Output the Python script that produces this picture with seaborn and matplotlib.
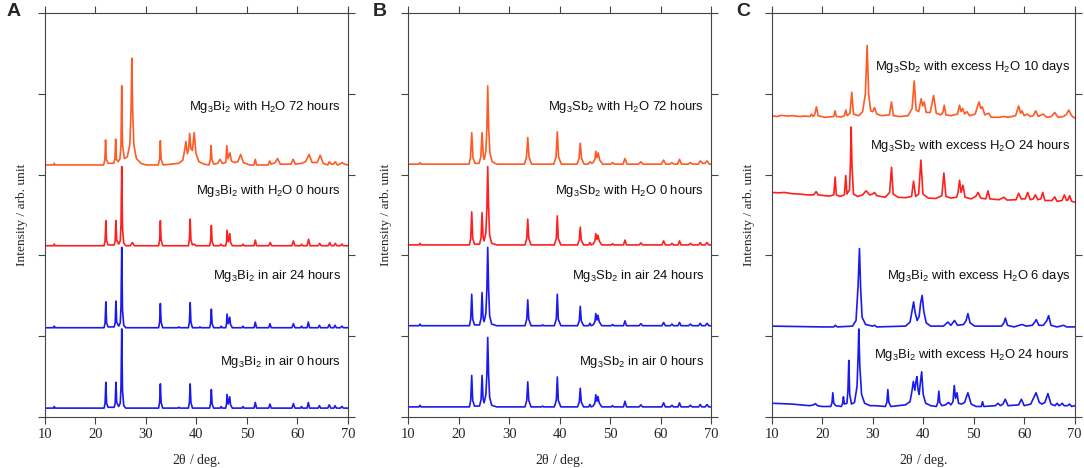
import pandas as pd
import matplotlib.pyplot as plt
import seaborn as sns

# -------------------------
# data : traced XRD patterns (2theta, intensity above baseline)
# -------------------------
bi_air_0h = [(10, 0), (11.7, 0), (11.85, 0.02), (12.0, 0),
             (21.7, 0), (21.9, 0.06), (22.05, 0.32), (22.2, 0.06), (22.5, 0.01),
             (23.7, 0.01), (23.9, 0.06), (24.05, 0.32), (24.2, 0.07), (24.6, 0.02),
             (24.9, 0.06), (25.05, 0.25), (25.2, 0.98), (25.35, 0.22), (25.6, 0.03), (26.0, 0),
             (32.5, 0), (32.7, 0.07), (32.85, 0.30), (33.0, 0.07), (33.3, 0),
             (36.3, 0), (36.5, 0.01), (36.7, 0),
             (38.4, 0), (38.6, 0.07), (38.75, 0.30), (38.9, 0.07), (39.2, 0),
             (42.6, 0), (42.8, 0.06), (42.95, 0.23), (43.1, 0.05), (43.4, 0),
             (44.7, 0), (44.9, 0.02), (45.1, 0),
             (45.8, 0), (45.95, 0.05), (46.05, 0.17), (46.3, 0.05), (46.6, 0.14), (46.75, 0.04), (47.1, 0),
             (49.0, 0), (49.2, 0.02), (49.4, 0),
             (51.4, 0), (51.65, 0.07), (51.9, 0),
             (54.3, 0), (54.55, 0.05), (54.8, 0),
             (58.9, 0), (59.2, 0.055), (59.5, 0),
             (60.6, 0), (60.8, 0.02), (61.0, 0),
             (61.9, 0), (62.15, 0.07), (62.4, 0),
             (64.1, 0), (64.35, 0.03), (64.6, 0),
             (66.0, 0), (66.3, 0.04), (66.6, 0),
             (67.2, 0), (67.45, 0.03), (67.7, 0),
             (68.5, 0), (68.8, 0.02), (69.1, 0), (70, 0)]

bi_air_24h = [(10, 0), (11.7, 0), (11.85, 0.02), (12.0, 0),
              (21.7, 0), (21.9, 0.06), (22.05, 0.32), (22.2, 0.06), (22.5, 0.01),
              (23.7, 0.01), (23.9, 0.06), (24.05, 0.33), (24.2, 0.07), (24.6, 0.02),
              (24.9, 0.06), (25.05, 0.25), (25.2, 0.995), (25.35, 0.22), (25.6, 0.03), (26.0, 0),
              (32.5, 0), (32.7, 0.07), (32.85, 0.30), (33.0, 0.07), (33.3, 0),
              (36.3, 0), (36.5, 0.01), (36.7, 0),
              (38.4, 0), (38.6, 0.07), (38.75, 0.31), (38.9, 0.07), (39.2, 0),
              (40.5, 0), (40.7, 0.01), (40.9, 0),
              (42.6, 0), (42.8, 0.06), (42.95, 0.23), (43.1, 0.05), (43.4, 0),
              (44.7, 0), (44.9, 0.02), (45.1, 0),
              (45.8, 0), (45.95, 0.05), (46.05, 0.17), (46.3, 0.05), (46.6, 0.13), (46.75, 0.04), (47.1, 0),
              (49.0, 0), (49.2, 0.02), (49.4, 0),
              (51.4, 0), (51.65, 0.07), (51.9, 0),
              (54.3, 0), (54.55, 0.05), (54.8, 0),
              (58.9, 0), (59.2, 0.05), (59.5, 0),
              (60.6, 0), (60.8, 0.02), (61.0, 0),
              (61.9, 0), (62.15, 0.07), (62.4, 0),
              (64.1, 0), (64.35, 0.03), (64.6, 0),
              (66.0, 0), (66.3, 0.04), (66.6, 0),
              (67.2, 0), (67.45, 0.03), (67.7, 0),
              (68.5, 0), (68.8, 0.02), (69.1, 0), (70, 0)]

bi_h2o_0h = [(10, 0), (11.7, 0), (11.85, 0.02), (12.0, 0),
             (21.7, 0), (21.9, 0.06), (22.05, 0.31), (22.2, 0.06), (22.5, 0.01),
             (23.7, 0.01), (23.9, 0.06), (24.05, 0.31), (24.2, 0.07), (24.6, 0.02),
             (24.9, 0.06), (25.05, 0.25), (25.2, 0.98), (25.35, 0.22), (25.6, 0.03), (26.0, 0),
             (26.9, 0), (27.3, 0.04), (27.7, 0),
             (32.5, 0), (32.7, 0.07), (32.85, 0.31), (33.0, 0.07), (33.3, 0),
             (38.4, 0), (38.6, 0.08), (38.75, 0.33), (38.9, 0.07), (39.2, 0.01), (39.6, 0.02), (39.9, 0),
             (42.6, 0), (42.8, 0.06), (42.95, 0.25), (43.1, 0.05), (43.4, 0),
             (44.6, 0), (44.85, 0.02), (45.1, 0),
             (45.8, 0), (45.95, 0.05), (46.05, 0.19), (46.3, 0.05), (46.6, 0.15), (46.75, 0.04), (47.1, 0),
             (49.0, 0), (49.2, 0.02), (49.4, 0),
             (51.4, 0), (51.65, 0.07), (51.9, 0),
             (54.3, 0), (54.6, 0.04), (54.9, 0),
             (58.9, 0), (59.2, 0.06), (59.5, 0),
             (60.6, 0), (60.8, 0.02), (61.0, 0),
             (61.9, 0), (62.2, 0.08), (62.5, 0),
             (64.1, 0), (64.4, 0.03), (64.7, 0),
             (66.1, 0), (66.4, 0.04), (66.7, 0),
             (67.2, 0), (67.5, 0.03), (67.8, 0),
             (68.5, 0), (68.8, 0.02), (69.1, 0), (70, 0)]

bi_h2o_72h = [(10, 0), (11.7, 0), (11.85, 0.02), (12.0, 0),
              (21.6, 0), (21.85, 0.06), (22.0, 0.31), (22.15, 0.07), (22.5, 0.02),
              (23.6, 0.02), (23.85, 0.07), (24.0, 0.32), (24.15, 0.07), (24.5, 0.04),
              (24.85, 0.08), (25.05, 0.25), (25.2, 0.98), (25.35, 0.25), (25.7, 0.08),
              (26.3, 0.1), (26.8, 0.25), (27.05, 0.7), (27.2, 1.32), (27.35, 0.7), (27.6, 0.25),
              (28.1, 0.08), (29.0, 0.02), (30.0, 0),
              (32.4, 0), (32.7, 0.07), (32.85, 0.30), (33.0, 0.07), (33.4, 0),
              (36.5, 0.02), (37.3, 0.06), (37.7, 0.2), (37.9, 0.29), (38.2, 0.14), (38.45, 0.2),
              (38.65, 0.39), (38.9, 0.2), (39.2, 0.18), (39.55, 0.40), (39.9, 0.14), (40.5, 0.04), (41.5, 0.01),
              (42.5, 0), (42.75, 0.07), (42.9, 0.24), (43.05, 0.07), (43.4, 0.01),
              (44.2, 0.02), (44.65, 0.07), (45.1, 0.02),
              (45.8, 0.03), (46.0, 0.24), (46.25, 0.08), (46.65, 0.15), (46.9, 0.05), (47.5, 0.03),
              (48.2, 0.04), (48.75, 0.13), (49.3, 0.03), (50.5, 0),
              (51.4, 0), (51.65, 0.07), (51.9, 0),
              (54.2, 0), (54.5, 0.05), (54.8, 0.01), (55.6, 0.03), (56.05, 0.08), (56.6, 0.01),
              (58.7, 0.01), (59.15, 0.07), (59.6, 0.01),
              (60.8, 0.02), (61.6, 0.04), (62.3, 0.13), (62.9, 0.03),
              (63.9, 0.03), (64.5, 0.12), (65.1, 0.02),
              (66.0, 0), (66.3, 0.04), (66.7, 0.01),
              (67.1, 0.01), (67.5, 0.04), (67.9, 0),
              (68.4, 0.01), (68.8, 0.03), (69.3, 0.01), (70, 0)]

sb_air_0h = [(10, 0), (12.1, 0), (12.3, 0.02), (12.5, 0),
             (22.1, 0), (22.35, 0.08), (22.55, 0.39), (22.75, 0.08), (23.1, 0.01),
             (24.1, 0.01), (24.4, 0.09), (24.6, 0.39), (24.8, 0.1), (25.0, 0.05),
             (25.35, 0.15), (25.55, 0.4), (25.72, 0.86), (25.9, 0.4), (26.1, 0.12), (26.5, 0.02), (27.5, 0),
             (33.1, 0), (33.45, 0.08), (33.65, 0.31), (33.85, 0.08), (34.3, 0),
             (36.4, 0), (36.6, 0.01), (36.8, 0),
             (38.9, 0), (39.3, 0.08), (39.5, 0.37), (39.7, 0.08), (40.2, 0),
             (43.5, 0), (43.85, 0.06), (44.05, 0.23), (44.25, 0.06), (44.7, 0),
             (45.7, 0), (45.95, 0.03), (46.2, 0), (46.6, 0.01), (46.95, 0.05), (47.12, 0.15),
             (47.35, 0.07), (47.55, 0.13), (47.8, 0.05), (48.3, 0),
             (50.2, 0), (50.45, 0.015), (50.7, 0),
             (52.6, 0), (52.9, 0.07), (53.2, 0),
             (55.7, 0), (56.05, 0.025), (56.4, 0),
             (60.2, 0), (60.55, 0.05), (60.9, 0),
             (61.9, 0), (62.2, 0.02), (62.5, 0),
             (63.4, 0), (63.7, 0.05), (64.0, 0),
             (65.5, 0), (65.85, 0.02), (66.2, 0),
             (67.5, 0), (67.8, 0.03), (68.1, 0),
             (68.8, 0), (69.15, 0.03), (69.5, 0), (70, 0)]

sb_air_24h = [(10, 0), (12.1, 0), (12.3, 0.02), (12.5, 0),
              (22.1, 0), (22.35, 0.08), (22.55, 0.39), (22.75, 0.08), (23.1, 0.01),
              (24.1, 0.01), (24.4, 0.09), (24.6, 0.41), (24.8, 0.1), (25.0, 0.05),
              (25.35, 0.15), (25.55, 0.45), (25.72, 0.97), (25.9, 0.45), (26.1, 0.12), (26.5, 0.02), (27.5, 0),
              (33.1, 0), (33.45, 0.08), (33.65, 0.32), (33.85, 0.08), (34.3, 0),
              (36.4, 0), (36.6, 0.01), (36.8, 0),
              (38.9, 0), (39.3, 0.08), (39.5, 0.39), (39.7, 0.08), (40.2, 0),
              (43.5, 0), (43.85, 0.06), (44.05, 0.24), (44.25, 0.06), (44.7, 0),
              (45.7, 0), (45.95, 0.03), (46.2, 0), (46.6, 0.01), (46.95, 0.05), (47.12, 0.15),
              (47.35, 0.07), (47.55, 0.13), (47.8, 0.05), (48.3, 0),
              (50.2, 0), (50.45, 0.015), (50.7, 0),
              (52.6, 0), (52.9, 0.06), (53.2, 0),
              (55.7, 0), (56.05, 0.025), (56.4, 0),
              (60.2, 0), (60.55, 0.04), (60.9, 0),
              (61.9, 0), (62.2, 0.02), (62.5, 0),
              (63.4, 0), (63.7, 0.04), (64.0, 0),
              (65.5, 0), (65.85, 0.02), (66.2, 0),
              (67.5, 0), (67.8, 0.03), (68.1, 0),
              (68.8, 0), (69.15, 0.03), (69.5, 0), (70, 0)]

sb_h2o_0h = [(10, 0), (12.1, 0), (12.3, 0.02), (12.5, 0),
             (22.1, 0), (22.35, 0.08), (22.55, 0.41), (22.75, 0.08), (23.1, 0.01),
             (24.1, 0.01), (24.4, 0.09), (24.6, 0.40), (24.8, 0.1), (25.0, 0.05),
             (25.35, 0.15), (25.55, 0.45), (25.72, 0.97), (25.9, 0.45), (26.1, 0.12), (26.5, 0.02), (27.5, 0),
             (33.1, 0), (33.45, 0.08), (33.65, 0.32), (33.85, 0.08), (34.3, 0),
             (38.9, 0), (39.3, 0.08), (39.5, 0.36), (39.7, 0.08), (40.2, 0),
             (43.5, 0), (43.85, 0.06), (44.05, 0.22), (44.25, 0.06), (44.7, 0),
             (45.7, 0), (45.95, 0.03), (46.2, 0), (46.6, 0.01), (46.95, 0.05), (47.12, 0.14),
             (47.35, 0.07), (47.55, 0.12), (47.8, 0.05), (48.3, 0),
             (50.2, 0), (50.45, 0.015), (50.7, 0),
             (52.6, 0), (52.9, 0.06), (53.2, 0),
             (55.7, 0), (56.05, 0.025), (56.4, 0),
             (60.2, 0), (60.55, 0.05), (60.9, 0),
             (61.9, 0), (62.2, 0.02), (62.5, 0),
             (63.4, 0), (63.7, 0.05), (64.0, 0),
             (65.5, 0), (65.85, 0.02), (66.2, 0),
             (67.5, 0), (67.8, 0.03), (68.1, 0),
             (68.8, 0), (69.15, 0.03), (69.5, 0), (70, 0)]

sb_h2o_72h = [(10, 0), (12.1, 0), (12.3, 0.02), (12.5, 0),
              (22.0, 0), (22.3, 0.08), (22.55, 0.39), (22.8, 0.08), (23.2, 0.01),
              (24.0, 0.01), (24.35, 0.09), (24.6, 0.39), (24.85, 0.1), (25.05, 0.06),
              (25.35, 0.16), (25.55, 0.45), (25.72, 0.97), (25.9, 0.45), (26.15, 0.14), (26.6, 0.03), (27.5, 0),
              (33.0, 0), (33.4, 0.09), (33.65, 0.33), (33.9, 0.09), (34.4, 0),
              (38.8, 0), (39.25, 0.09), (39.5, 0.40), (39.75, 0.09), (40.3, 0),
              (43.4, 0), (43.8, 0.07), (44.05, 0.26), (44.3, 0.07), (44.8, 0),
              (45.6, 0), (45.95, 0.03), (46.3, 0.01), (46.6, 0.02), (46.95, 0.06), (47.12, 0.16),
              (47.35, 0.08), (47.6, 0.14), (47.9, 0.05), (48.5, 0),
              (50.1, 0), (50.45, 0.02), (50.8, 0),
              (52.5, 0), (52.9, 0.07), (53.3, 0),
              (55.6, 0), (56.05, 0.03), (56.5, 0),
              (60.1, 0), (60.55, 0.05), (61.0, 0),
              (61.8, 0), (62.2, 0.02), (62.6, 0),
              (63.3, 0), (63.7, 0.06), (64.1, 0),
              (65.4, 0), (65.85, 0.02), (66.3, 0),
              (67.4, 0), (67.8, 0.04), (68.3, 0.01),
              (68.7, 0.01), (69.15, 0.04), (69.6, 0), (70, 0)]

bi_xs_24h = [(10, 0.04), (14, 0.03), (17.5, 0.01), (18.3, 0.02), (18.65, 0.035), (19.1, 0.01), (20, 0),
             (21.7, 0), (21.95, 0.05), (22.1, 0.17), (22.3, 0.04), (22.7, 0.01),
             (23.8, 0), (24.05, 0.04), (24.2, 0.12), (24.4, 0.03), (24.9, 0.04),
             (25.1, 0.2), (25.27, 0.57), (25.45, 0.15), (25.8, 0.03),
             (26.4, 0.05), (26.9, 0.25), (27.1, 0.6), (27.25, 0.96), (27.45, 0.5), (27.8, 0.15),
             (28.4, 0.04), (29.5, 0.01), (30.5, 0.01),
             (32.5, 0), (32.8, 0.05), (33.0, 0.21), (33.2, 0.05), (33.6, 0),
             (36.5, 0.02), (37.4, 0.06), (37.8, 0.2), (38.05, 0.31), (38.35, 0.2), (38.55, 0.3),
             (38.75, 0.37), (39.0, 0.2), (39.2, 0.15), (39.45, 0.3), (39.7, 0.43), (40.0, 0.15),
             (40.5, 0.04), (41.5, 0.01),
             (42.6, 0), (42.9, 0.05), (43.1, 0.19), (43.3, 0.05), (43.7, 0.01),
             (44.4, 0.02), (45.0, 0.05), (45.5, 0.02),
             (45.9, 0.06), (46.15, 0.26), (46.4, 0.1), (46.7, 0.17), (47.0, 0.04), (47.6, 0.03),
             (48.2, 0.05), (48.85, 0.17), (49.5, 0.03), (50.5, 0),
             (51.5, 0), (51.75, 0.06), (52.0, 0),
             (54.3, 0.01), (54.8, 0.04), (55.3, 0.01), (55.8, 0.03), (56.25, 0.09), (56.8, 0.01),
             (58.9, 0.02), (59.45, 0.09), (60.0, 0.01),
             (61.3, 0.03), (62.35, 0.17), (63.0, 0.05), (63.5, 0.03), (64.1, 0.05), (64.7, 0.16), (65.3, 0.03),
             (66.1, 0.01), (66.5, 0.04), (66.9, 0.01), (67.2, 0.02), (67.55, 0.04), (67.9, 0.01),
             (68.6, 0.01), (69.0, 0.03), (69.4, 0), (70, 0.01)]

bi_xs_6d = [(10, 0.01), (20, 0), (22.3, 0), (22.6, 0.02), (23.0, 0),
            (26.0, 0.01), (26.7, 0.08), (27.1, 0.5), (27.38, 0.97), (27.6, 0.5), (27.9, 0.12),
            (28.6, 0.03), (30.0, 0.01), (30.4, 0.02), (30.8, 0),
            (36.5, 0.01), (37.4, 0.06), (37.8, 0.2), (38.1, 0.31), (38.4, 0.18), (38.8, 0.08),
            (39.2, 0.13), (39.5, 0.3), (39.8, 0.39), (40.1, 0.2), (40.6, 0.05), (41.5, 0.01),
            (44.0, 0.01), (44.9, 0.06), (45.5, 0.02), (46.2, 0.08), (46.8, 0.02),
            (48.0, 0.03), (48.5, 0.08), (48.85, 0.165), (49.3, 0.05), (50.2, 0.01),
            (55.5, 0.01), (56.0, 0.05), (56.27, 0.11), (56.7, 0.02), (58.0, 0),
            (59.0, 0.02), (59.6, 0.03), (60.4, 0.01),
            (61.6, 0.02), (62.1, 0.06), (62.4, 0.09), (62.9, 0.02),
            (63.8, 0.02), (64.5, 0.08), (64.85, 0.14), (65.3, 0.02),
            (66.5, 0), (67.2, 0.01), (67.8, 0.02), (68.4, 0), (70, 0)]

sb_xs_24h = [(10, 0.12), (11.5, 0.115), (12.5, 0.12), (14, 0.105), (15.5, 0.10), (17, 0.09),
             (18.3, 0.09), (18.8, 0.13), (19.2, 0.09), (20.5, 0.08), (21.5, 0.075),
             (22.3, 0.09), (22.56, 0.31), (22.8, 0.09), (23.5, 0.07),
             (24.4, 0.09), (24.67, 0.33), (24.9, 0.1), (25.4, 0.15), (25.6, 0.5), (25.73, 0.93),
             (25.9, 0.45), (26.2, 0.1), (27.0, 0.07), (28.0, 0.09), (28.7, 0.14), (29.4, 0.09),
             (30.0, 0.1), (30.36, 0.12), (30.8, 0.08), (32.5, 0.06),
             (33.35, 0.12), (33.73, 0.43), (34.05, 0.1), (35.0, 0.06), (36.5, 0.055),
             (37.7, 0.07), (38.09, 0.26), (38.5, 0.07), (39.1, 0.1), (39.55, 0.52), (39.95, 0.1),
             (41.0, 0.05), (42.5, 0.045), (43.7, 0.08), (44.1, 0.36), (44.5, 0.07), (45.5, 0.05),
             (46.6, 0.06), (46.9, 0.12), (47.2, 0.27), (47.5, 0.12), (47.87, 0.21), (48.3, 0.06),
             (49.5, 0.04), (50.4, 0.07), (50.85, 0.12), (51.4, 0.05), (52.4, 0.04), (52.83, 0.14),
             (53.2, 0.04), (55.0, 0.03), (56.0, 0.06), (56.6, 0.025),
             (58.4, 0.03), (58.9, 0.11), (59.4, 0.04), (60.2, 0.04), (60.7, 0.12), (61.2, 0.03),
             (61.8, 0.04), (62.2, 0.09), (62.7, 0.03), (63.3, 0.04), (63.67, 0.12), (64.1, 0.02),
             (65.5, 0.02), (66.05, 0.065), (66.5, 0.01), (67.5, 0.02), (67.96, 0.09), (68.4, 0.02),
             (68.7, 0.03), (69.0, 0.08), (69.4, 0.01), (70, 0)]

sb_xs_10d = [(10, 0.03), (11, 0.02), (12, 0.035), (13, 0.025), (14, 0.03), (15.5, 0.02), (16.5, 0.025),
             (17.6, 0.02), (17.9, 0.05), (18.2, 0.02), (18.5, 0.04), (18.86, 0.14), (19.2, 0.03),
             (20.5, 0.01), (21.5, 0.015), (22.3, 0.02), (22.56, 0.09), (22.8, 0.02), (23.8, 0.015),
             (24.4, 0.03), (24.67, 0.10), (24.95, 0.03), (25.5, 0.06), (25.86, 0.32), (26.2, 0.05),
             (27.2, 0.03), (28.0, 0.08), (28.55, 0.3), (28.9, 0.90), (29.2, 0.3), (29.6, 0.09),
             (30.0, 0.08), (30.36, 0.13), (30.8, 0.05), (31.8, 0.03), (33.3, 0.04), (33.73, 0.20),
             (34.1, 0.03), (35.5, 0.02), (37.0, 0.03), (37.8, 0.12), (38.22, 0.46), (38.6, 0.1),
             (39.1, 0.08), (39.6, 0.24), (39.9, 0.15), (40.2, 0.20), (40.6, 0.07), (41.4, 0.07),
             (42.06, 0.28), (42.6, 0.06), (43.5, 0.04), (43.9, 0.07), (44.17, 0.16), (44.5, 0.04),
             (45.5, 0.03), (46.8, 0.05), (47.2, 0.16), (47.5, 0.08), (47.8, 0.12), (48.2, 0.05),
             (48.66, 0.08), (49.2, 0.03), (50.3, 0.05), (51.04, 0.20), (51.4, 0.12), (51.7, 0.14),
             (52.2, 0.04), (52.96, 0.06), (53.5, 0.01), (55.0, 0.01), (55.9, 0.02), (56.8, 0.01),
             (58.3, 0.03), (58.9, 0.15), (59.3, 0.06), (59.57, 0.09), (60.0, 0.03), (60.56, 0.05),
             (61.2, 0.02), (61.8, 0.03), (62.28, 0.09), (62.8, 0.02), (63.73, 0.05), (64.5, 0.01),
             (65.4, 0.02), (66.05, 0.07), (66.7, 0.01), (67.8, 0.02), (68.4, 0.05), (68.82, 0.10),
             (69.4, 0.03), (70, 0)]

# panels : (patterns from bottom to top, baseline offsets, labels, label heights)
panel_a = [bi_air_0h, bi_air_24h, bi_h2o_0h, bi_h2o_72h]
offsets_a = [0.11, 1.105, 2.12, 3.12]
labels_a = [r"Mg$_3$Bi$_2$ in air 0 hours", r"Mg$_3$Bi$_2$ in air 24 hours",
            r"Mg$_3$Bi$_2$ with H$_2$O 0 hours", r"Mg$_3$Bi$_2$ with H$_2$O 72 hours"]
label_y_a = [0.685, 1.745, 2.80, 3.84]

panel_b = [sb_air_0h, sb_air_24h, sb_h2o_0h, sb_h2o_72h]
offsets_b = [0.125, 1.13, 2.13, 3.13]
labels_b = [r"Mg$_3$Sb$_2$ in air 0 hours", r"Mg$_3$Sb$_2$ in air 24 hours",
            r"Mg$_3$Sb$_2$ with H$_2$O 0 hours", r"Mg$_3$Sb$_2$ with H$_2$O 72 hours"]
label_y_b = [0.685, 1.745, 2.80, 3.84]

panel_c = [bi_xs_24h, bi_xs_6d, sb_xs_24h, sb_xs_10d]
offsets_c = [0.13, 1.115, 2.66, 3.70]
labels_c = [r"Mg$_3$Bi$_2$ with excess H$_2$O 24 hours", r"Mg$_3$Bi$_2$ with excess H$_2$O 6 days",
            r"Mg$_3$Sb$_2$ with excess H$_2$O 24 hours", r"Mg$_3$Sb$_2$ with excess H$_2$O 10 days"]
label_y_c = [0.77, 1.74, 3.36, 4.33]

colors_ab = ["#1a1aee", "#1a1aee", "#ff1f1f", "#ff5a24"]
colors_c = ["#1a1aee", "#1a1aee", "#ff1f1f", "#ff5a24"]

# -------------------------
# style
# -------------------------
sns.set_style("ticks")
plt.rcParams["font.family"] = ["Liberation Serif", "DejaVu Serif"]
plt.rcParams["mathtext.default"] = "regular"
plt.rcParams["mathtext.fontset"] = "custom"
plt.rcParams["mathtext.rm"] = "Liberation Serif"
plt.rcParams["mathtext.it"] = "Liberation Serif:italic"

fig = plt.figure(figsize=(10.84, 4.68), dpi=100)
lefts = [0.0415, 0.3767, 0.7119]
panels = [(panel_a, offsets_a, labels_a, label_y_a, colors_ab),
          (panel_b, offsets_b, labels_b, label_y_b, colors_ab),
          (panel_c, offsets_c, labels_c, label_y_c, colors_c)]
letters = ["A", "B", "C"]
letter_x = [0.006, 0.344, 0.679]

for i, (pats, offs, labs, laby, cols) in enumerate(panels):
    ax = fig.add_axes([lefts[i], 0.109, 0.2795, 0.863])
    for pat, off, lab, ly, col in zip(pats, offs, labs, laby, cols):
        df = pd.DataFrame(pat, columns=["tth", "inten"])
        df["y"] = df["inten"] + off
        sns.lineplot(data=df, x="tth", y="y", ax=ax, color=col, lw=1.2,
                     estimator=None, sort=False)
        ax.text(68.6 if i < 2 else 69.1, ly, lab, ha="right", va="center",
                fontsize=9.4, family=["Liberation Sans", "DejaVu Sans"], color="#111111")
    ax.set_xlim(10, 70)
    ax.set_ylim(0, 5)
    ax.set_xticks([10, 20, 30, 40, 50, 60, 70])
    ax.set_yticks([0, 1, 2, 3, 4, 5])
    ax.set_yticklabels([])
    ax.tick_params(direction="out", length=5, width=0.8, color="#444444",
                   top=True, right=True, labelsize=10.5, pad=3)
    for sp in ax.spines.values():
        sp.set_visible(True)
        sp.set_color("#444444")
        sp.set_linewidth(0.8)
    ax.set_xlabel(r"2$\theta$ / deg.", fontsize=10, labelpad=8)
    ax.set_ylabel("Intensity / arb. unit", fontsize=9.6, labelpad=4)
    fig.text(letter_x[i], 0.975, letters[i], fontsize=14, fontweight="bold",
             family=["Liberation Sans", "DejaVu Sans"], ha="left", va="center")

plt.savefig("out.png", dpi=100)
